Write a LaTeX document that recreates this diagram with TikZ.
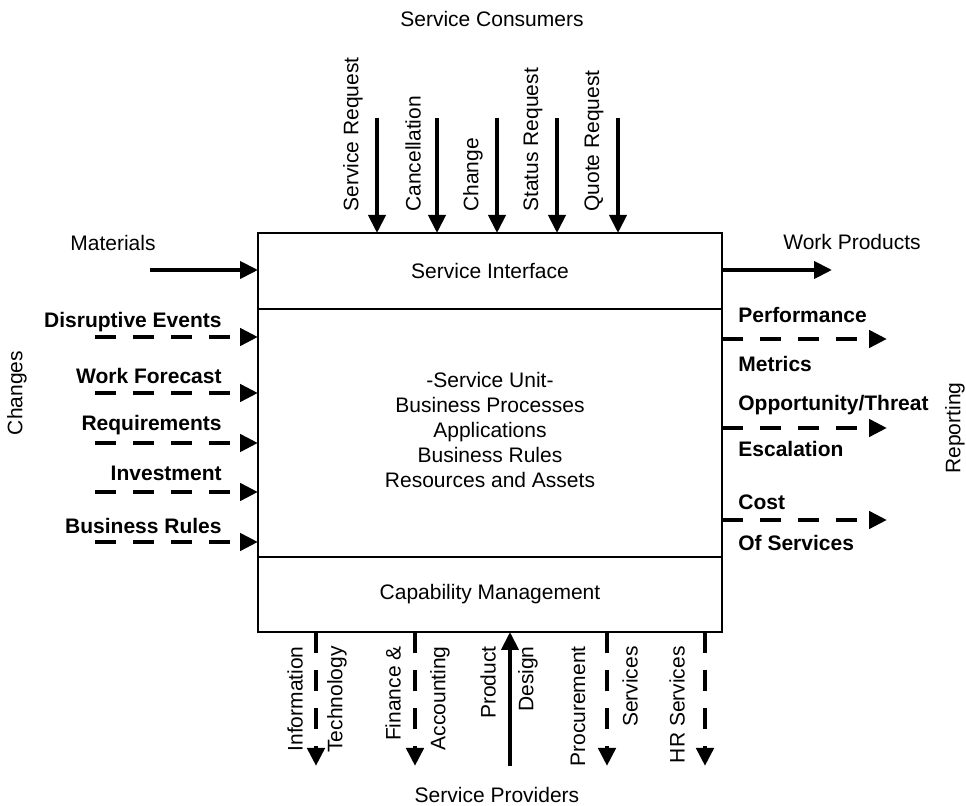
\documentclass[tikz,border=0pt]{standalone}
\usepackage{fontspec}
\setmainfont{Liberation Sans}
\usetikzlibrary{arrows.meta}
\begin{document}
\begin{tikzpicture}[x=0.5pt,y=-0.5pt,
  font=\fontsize{10.5}{12.5}\selectfont,
  part/.style={draw, line width=0.9pt, minimum width=232pt, inner sep=0pt, outer sep=0pt},
  flow/.style={line width=2pt, -{Triangle[length=9pt,width=8.5pt]}},
  dflow/.style={flow, line width=2.4pt, dash pattern=on 10.5pt off 8.5pt},
  lbl/.style={inner sep=0pt},
  vlbl/.style={lbl, rotate=90},
  blbl/.style={lbl, font=\fontsize{10.5}{12.5}\selectfont\bfseries},
]
\path[use as bounding box] (0,0) rectangle (966,806);

% the service unit and its two layers
\node[part, minimum height=38pt] (si) at (490,271) {Service Interface};
\node[part, minimum height=124pt] (su) at (490,433) {};
\node[part, minimum height=37.5pt] (cm) at (490,594.5) {Capability Management};
\node[lbl, align=center] (unit) at (490,430)
  {-Service Unit-\\Business Processes\\Applications\\Business Rules\\Resources and Assets};

% consumers' requests
\node[lbl] (consumers) at (492,19) {Service Consumers};
\foreach \n/\x/\t in {r1/377/Service Request, r2/437/Cancellation, r3/497/Change,
                      r4/557/Status Request, r5/618/Quote Request} {
  \coordinate (\n) at (\x,118);
  \draw[flow] (\n) -- (\n |- si.north);
  \node[vlbl, anchor=west] (\n l) at (\x-24,212) {\t};
}

% materials in, work products out
\coordinate (mat) at (150,270);
\draw[flow] (mat) -- (mat -| si.west);
\node[lbl] (matl) at (113,243) {Materials};
\coordinate (wp) at (832,270);
\draw[flow] (wp -| si.east) -- (wp);
\node[lbl] (wpl) at (852,242) {Work Products};

% changes
\node[vlbl] (changes) at (17,393) {Changes};
\foreach \n/\y/\ly/\t in {c1/337/322/Disruptive Events, c2/393/376/Work Forecast,
                          c3/443/425/Requirements, c4/492/473/Investment,
                          c5/542/526/Business Rules} {
  \coordinate (\n) at (95,\y);
  \draw[dflow] (\n) -- (\n -| su.west);
  \node[blbl, anchor=east] (\n l) at (222,\ly) {\t};
}

% reporting
\node[vlbl] (reporting) at (955,428) {Reporting};
\foreach \n/\y in {p1/339, p2/428, p3/520} {
  \coordinate (\n) at (887,\y);
  \draw[dflow] (\n -| su.east) -- (\n);
}
\node[blbl, anchor=west] (p1a) at (738,315) {Performance};
\node[blbl, anchor=west] (p1b) at (738,364) {Metrics};
\node[blbl, anchor=west] (p2a) at (738,405) {Opportunity/Threat};
\node[blbl, anchor=west] (p2b) at (738,449) {Escalation};
\node[blbl, anchor=west] (p3a) at (738,502) {Cost};
\node[blbl, anchor=west] (p3b) at (738,543) {Of Services};

% providers
\node[lbl] (providers) at (497,795) {Service Providers};
\foreach \n/\x in {s1/316, s2/415, s4/607, s5/705} {
  \coordinate (\n) at (\x,766);
  \draw[dflow] (\n |- cm.south) -- (\n);
}
\coordinate (s3) at (510,766);
\draw[flow] (s3) -- (s3 |- cm.south);
\foreach \n/\x/\t in {s1a/295/Information, s1b/337/Technology,
                      s2a/393/Finance \&, s2b/440/Accounting,
                      s3a/488/Product, s3b/528/Design,
                      s4a/578/Procurement, s4b/630/Services,
                      s5a/677/HR Services} {
  \node[vlbl, anchor=east] (\n) at (\x,646) {\t};
}
\end{tikzpicture}
\end{document}
